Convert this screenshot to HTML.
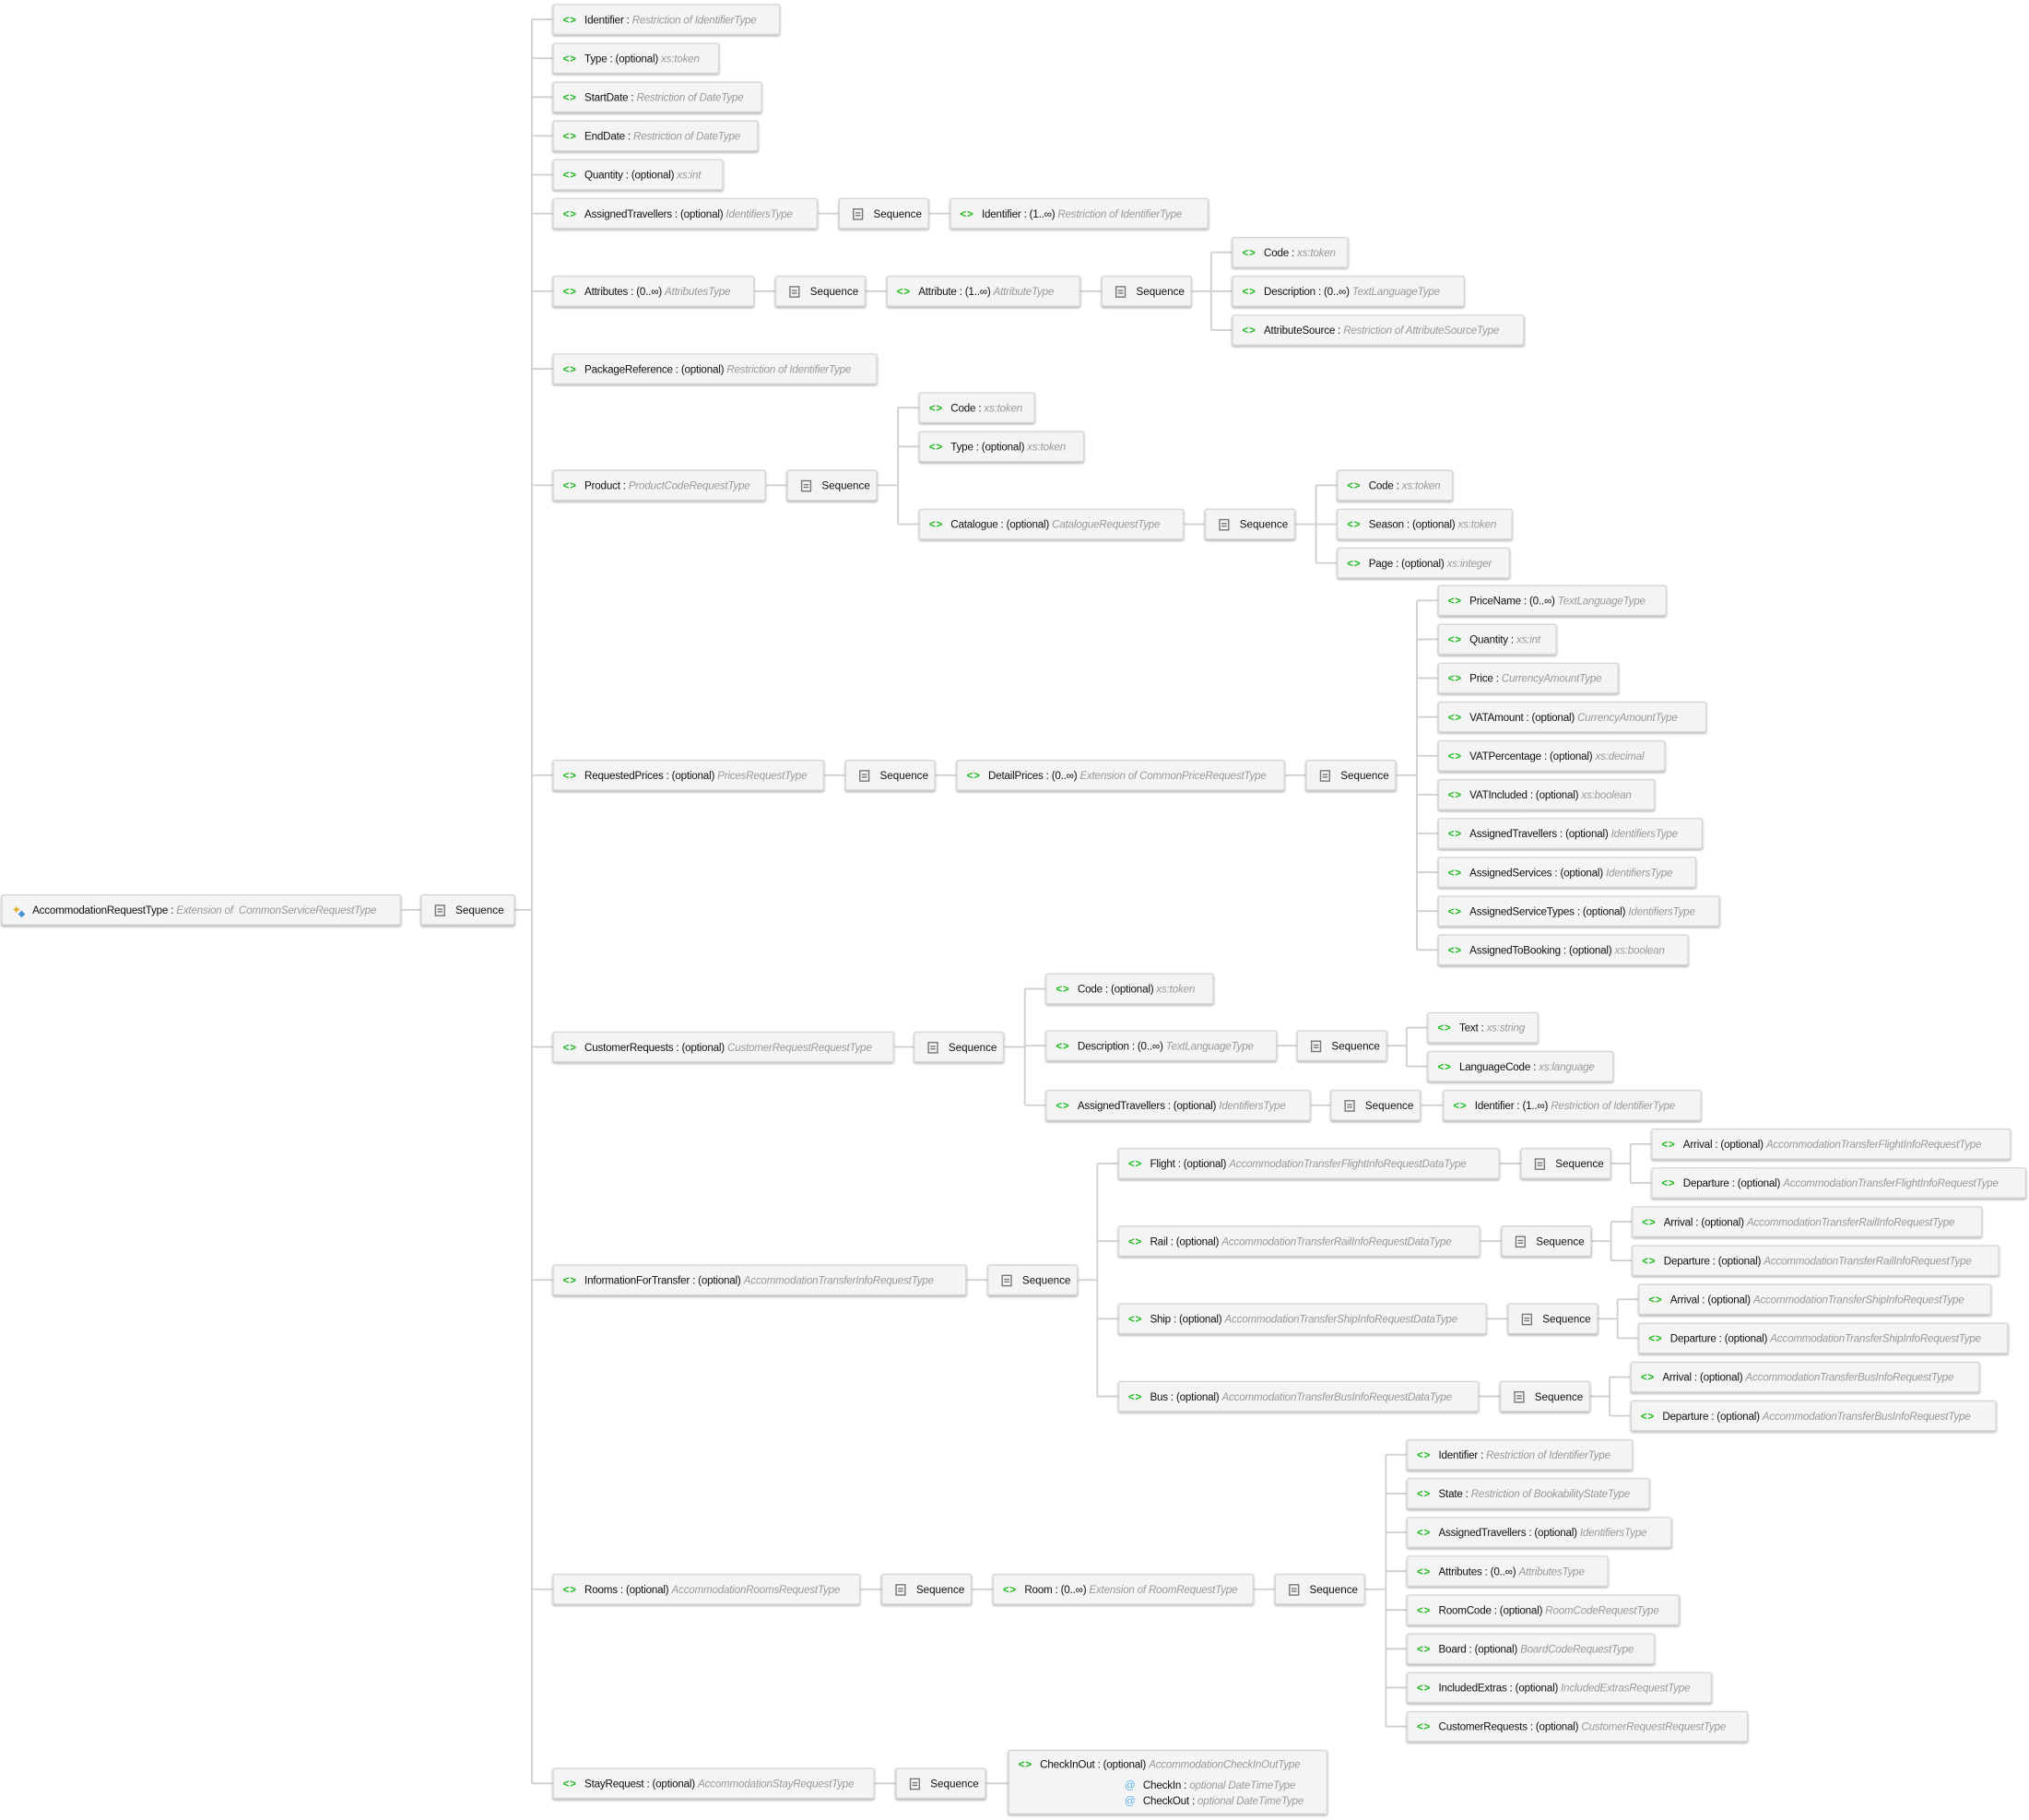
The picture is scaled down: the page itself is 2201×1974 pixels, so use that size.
<!DOCTYPE html>
<html><head><meta charset="utf-8"><style>
html,body{margin:0;padding:0;background:#fff;}
body{width:2201px;height:1973px;overflow:hidden;position:relative;}
#w{position:absolute;left:0;top:0;width:1568px;height:1406px;transform:scale(1.40370);transform-origin:0 0;font-family:"Liberation Sans",sans-serif;font-size:8.3px;color:#111;}
.b{position:absolute;height:24px;line-height:24px;background:#f4f4f4;border-radius:2px;box-shadow:inset 0 0 0 1px #d6d6d6,0 1px 1.5px rgba(0,0,0,.28);white-space:nowrap;overflow:hidden;padding-left:8px;box-sizing:content-box;letter-spacing:-0.15px;}
.b i{font-style:normal;color:#22bb22;font-weight:bold;margin-right:6px;letter-spacing:0.5px;}
.b em{color:#9a9a9a;}
.s{position:absolute;height:22px;line-height:22px;width:68px;background:#f4f4f4;border:1px solid #d6d6d6;border-radius:2px;box-shadow:0 1px 1.5px rgba(0,0,0,.28);white-space:nowrap;}
.s:before{content:"";position:absolute;left:10px;top:7px;width:6px;height:7px;border:1px solid #777;background:linear-gradient(#777,#777) 1px 2px/4px 1px no-repeat,linear-gradient(#777,#777) 1px 4px/4px 1px no-repeat;}
.s span{position:absolute;left:26px;}
svg{position:absolute;left:0;top:0;}
</style></head><body><div id="w">
<svg width="1568" height="1406" fill="none" stroke="#cfcfcf" stroke-width="1.3">
<path d="M310 703H325M397 703H411M411 15V1378"/>
<path d="M411 15H427M411 45H427M411 75H427M411 105H427M411 135H427M411 165H427M411 225H427M411 285H427M411 375H427M411 599H427M411 809H427M411 989H427M411 1228H427M411 1378H427"/>
<path d="M632 165H648M718 165H734"/>
<path d="M583 225H599M668 225H685M835 225H851M920 225H936M936 195V255M936 195H952M936 225H952M936 255H952"/>
<path d="M592 375H608M678 375H694M694 315V405M694 315H710M694 345H710M694 405H710M915 405H931M1001 405H1017M1017 375V435M1017 375H1033M1017 405H1033M1017 435H1033"/>
<path d="M637 599H653M723 599H739M993 599H1009M1079 599H1095M1095 464V734M1095 464H1111M1095 494H1111M1095 524H1111M1095 554H1111M1095 584H1111M1095 614H1111M1095 644H1111M1095 674H1111M1095 704H1111M1095 734H1111"/>
<path d="M691 809H706M776 809H792M792 764V854M792 764H808M792 808H808M792 854H808M987 808H1002M1072 808H1087M1087 794V824M1087 794H1103M1087 824H1103M1013 854H1028M1098 854H1115"/>
<path d="M747 989H763M833 989H848M848 899V1079M848 899H864M848 959H864M848 1019H864M848 1079H864"/>
<path d="M1159 899H1175M1245 899H1260M1260 884V914M1260 884H1276M1260 914H1276"/>
<path d="M1144 959H1160M1230 959H1245M1245 944V974M1245 944H1261M1245 974H1261"/>
<path d="M1149 1019H1165M1235 1019H1250M1250 1004V1034M1250 1004H1266M1250 1034H1266"/>
<path d="M1143 1079H1159M1229 1079H1244M1244 1064V1094M1244 1064H1260M1244 1094H1260"/>
<path d="M665 1228H681M751 1228H767M969 1228H985M1055 1228H1071M1071 1124V1334M1071 1124H1087M1071 1154H1087M1071 1184H1087M1071 1214H1087M1071 1244H1087M1071 1274H1087M1071 1304H1087M1071 1334H1087"/>
<path d="M676 1378H692M762 1378H779"/>
</svg>

<div class="b" style="left:1px;top:691px;padding-left:24px;width:285px"><span style="position:absolute;left:8px;top:0;color:#e0b020;font-size:9px">✦</span><span style="position:absolute;left:13px;top:4px;color:#4a90d9;font-size:7px">◆</span>AccommodationRequestType : <em>Extension of &nbsp;CommonServiceRequestType</em></div>
<div class="s" style="left:325px;top:691px;width:71px"><span>Sequence</span></div>

<div class="b" style="left:427px;top:3px;width:168px"><i>&lt;&gt;</i>Identifier : <em>Restriction of IdentifierType</em></div>
<div class="b" style="left:427px;top:33px;width:121px"><i>&lt;&gt;</i>Type : (optional) <em>xs:token</em></div>
<div class="b" style="left:427px;top:63px;width:154px"><i>&lt;&gt;</i>StartDate : <em>Restriction of DateType</em></div>
<div class="b" style="left:427px;top:93px;width:151px"><i>&lt;&gt;</i>EndDate : <em>Restriction of DateType</em></div>
<div class="b" style="left:427px;top:123px;width:124px"><i>&lt;&gt;</i>Quantity : (optional) <em>xs:int</em></div>
<div class="b" style="left:427px;top:153px;width:197px"><i>&lt;&gt;</i>AssignedTravellers : (optional) <em>IdentifiersType</em></div>
<div class="s" style="left:648px;top:153px"><span>Sequence</span></div>
<div class="b" style="left:734px;top:153px;width:192px"><i>&lt;&gt;</i>Identifier : (1..∞) <em>Restriction of IdentifierType</em></div>

<div class="b" style="left:427px;top:213px;width:148px"><i>&lt;&gt;</i>Attributes : (0..∞) <em>AttributesType</em></div>
<div class="s" style="left:599px;top:213px"><span>Sequence</span></div>
<div class="b" style="left:685px;top:213px;width:142px"><i>&lt;&gt;</i>Attribute : (1..∞) <em>AttributeType</em></div>
<div class="s" style="left:851px;top:213px"><span>Sequence</span></div>
<div class="b" style="left:952px;top:183px;width:82px"><i>&lt;&gt;</i>Code : <em>xs:token</em></div>
<div class="b" style="left:952px;top:213px;width:172px"><i>&lt;&gt;</i>Description : (0..∞) <em>TextLanguageType</em></div>
<div class="b" style="left:952px;top:243px;width:218px"><i>&lt;&gt;</i>AttributeSource : <em>Restriction of AttributeSourceType</em></div>

<div class="b" style="left:427px;top:273px;width:243px"><i>&lt;&gt;</i>PackageReference : (optional) <em>Restriction of IdentifierType</em></div>

<div class="b" style="left:427px;top:363px;width:157px"><i>&lt;&gt;</i>Product : <em>ProductCodeRequestType</em></div>
<div class="s" style="left:608px;top:363px"><span>Sequence</span></div>
<div class="b" style="left:710px;top:303px;width:82px"><i>&lt;&gt;</i>Code : <em>xs:token</em></div>
<div class="b" style="left:710px;top:333px;width:120px"><i>&lt;&gt;</i>Type : (optional) <em>xs:token</em></div>
<div class="b" style="left:710px;top:393px;width:197px"><i>&lt;&gt;</i>Catalogue : (optional) <em>CatalogueRequestType</em></div>
<div class="s" style="left:931px;top:393px"><span>Sequence</span></div>
<div class="b" style="left:1033px;top:363px;width:82px"><i>&lt;&gt;</i>Code : <em>xs:token</em></div>
<div class="b" style="left:1033px;top:393px;width:128px"><i>&lt;&gt;</i>Season : (optional) <em>xs:token</em></div>
<div class="b" style="left:1033px;top:423px;width:126px"><i>&lt;&gt;</i>Page : (optional) <em>xs:integer</em></div>

<div class="b" style="left:427px;top:587px;width:202px"><i>&lt;&gt;</i>RequestedPrices : (optional) <em>PricesRequestType</em></div>
<div class="s" style="left:653px;top:587px"><span>Sequence</span></div>
<div class="b" style="left:739px;top:587px;width:246px"><i>&lt;&gt;</i>DetailPrices : (0..∞) <em>Extension of CommonPriceRequestType</em></div>
<div class="s" style="left:1009px;top:587px"><span>Sequence</span></div>
<div class="b" style="left:1111px;top:452px;width:169px"><i>&lt;&gt;</i>PriceName : (0..∞) <em>TextLanguageType</em></div>
<div class="b" style="left:1111px;top:482px;width:84px"><i>&lt;&gt;</i>Quantity : <em>xs:int</em></div>
<div class="b" style="left:1111px;top:512px;width:132px"><i>&lt;&gt;</i>Price : <em>CurrencyAmountType</em></div>
<div class="b" style="left:1111px;top:542px;width:200px"><i>&lt;&gt;</i>VATAmount : (optional) <em>CurrencyAmountType</em></div>
<div class="b" style="left:1111px;top:572px;width:168px"><i>&lt;&gt;</i>VATPercentage : (optional) <em>xs:decimal</em></div>
<div class="b" style="left:1111px;top:602px;width:160px"><i>&lt;&gt;</i>VATIncluded : (optional) <em>xs:boolean</em></div>
<div class="b" style="left:1111px;top:632px;width:197px"><i>&lt;&gt;</i>AssignedTravellers : (optional) <em>IdentifiersType</em></div>
<div class="b" style="left:1111px;top:662px;width:192px"><i>&lt;&gt;</i>AssignedServices : (optional) <em>IdentifiersType</em></div>
<div class="b" style="left:1111px;top:692px;width:210px"><i>&lt;&gt;</i>AssignedServiceTypes : (optional) <em>IdentifiersType</em></div>
<div class="b" style="left:1111px;top:722px;width:186px"><i>&lt;&gt;</i>AssignedToBooking : (optional) <em>xs:boolean</em></div>

<div class="b" style="left:427px;top:797px;width:256px"><i>&lt;&gt;</i>CustomerRequests : (optional) <em>CustomerRequestRequestType</em></div>
<div class="s" style="left:706px;top:797px"><span>Sequence</span></div>
<div class="b" style="left:808px;top:752px;width:122px"><i>&lt;&gt;</i>Code : (optional) <em>xs:token</em></div>
<div class="b" style="left:808px;top:796px;width:171px"><i>&lt;&gt;</i>Description : (0..∞) <em>TextLanguageType</em></div>
<div class="s" style="left:1002px;top:796px"><span>Sequence</span></div>
<div class="b" style="left:1103px;top:782px;width:78px"><i>&lt;&gt;</i>Text : <em>xs:string</em></div>
<div class="b" style="left:1103px;top:812px;width:136px"><i>&lt;&gt;</i>LanguageCode : <em>xs:language</em></div>
<div class="b" style="left:808px;top:842px;width:197px"><i>&lt;&gt;</i>AssignedTravellers : (optional) <em>IdentifiersType</em></div>
<div class="s" style="left:1028px;top:842px"><span>Sequence</span></div>
<div class="b" style="left:1115px;top:842px;width:192px"><i>&lt;&gt;</i>Identifier : (1..∞) <em>Restriction of IdentifierType</em></div>

<div class="b" style="left:427px;top:977px;width:312px"><i>&lt;&gt;</i>InformationForTransfer : (optional) <em>AccommodationTransferInfoRequestType</em></div>
<div class="s" style="left:763px;top:977px"><span>Sequence</span></div>
<div class="b" style="left:864px;top:887px;width:287px"><i>&lt;&gt;</i>Flight : (optional) <em>AccommodationTransferFlightInfoRequestDataType</em></div>
<div class="s" style="left:1175px;top:887px"><span>Sequence</span></div>
<div class="b" style="left:1276px;top:872px;width:270px"><i>&lt;&gt;</i>Arrival : (optional) <em>AccommodationTransferFlightInfoRequestType</em></div>
<div class="b" style="left:1276px;top:902px;width:282px"><i>&lt;&gt;</i>Departure : (optional) <em>AccommodationTransferFlightInfoRequestType</em></div>
<div class="b" style="left:864px;top:947px;width:272px"><i>&lt;&gt;</i>Rail : (optional) <em>AccommodationTransferRailInfoRequestDataType</em></div>
<div class="s" style="left:1160px;top:947px"><span>Sequence</span></div>
<div class="b" style="left:1261px;top:932px;width:263px"><i>&lt;&gt;</i>Arrival : (optional) <em>AccommodationTransferRailInfoRequestType</em></div>
<div class="b" style="left:1261px;top:962px;width:276px"><i>&lt;&gt;</i>Departure : (optional) <em>AccommodationTransferRailInfoRequestType</em></div>
<div class="b" style="left:864px;top:1007px;width:277px"><i>&lt;&gt;</i>Ship : (optional) <em>AccommodationTransferShipInfoRequestDataType</em></div>
<div class="s" style="left:1165px;top:1007px"><span>Sequence</span></div>
<div class="b" style="left:1266px;top:992px;width:265px"><i>&lt;&gt;</i>Arrival : (optional) <em>AccommodationTransferShipInfoRequestType</em></div>
<div class="b" style="left:1266px;top:1022px;width:278px"><i>&lt;&gt;</i>Departure : (optional) <em>AccommodationTransferShipInfoRequestType</em></div>
<div class="b" style="left:864px;top:1067px;width:271px"><i>&lt;&gt;</i>Bus : (optional) <em>AccommodationTransferBusInfoRequestDataType</em></div>
<div class="s" style="left:1159px;top:1067px"><span>Sequence</span></div>
<div class="b" style="left:1260px;top:1052px;width:262px"><i>&lt;&gt;</i>Arrival : (optional) <em>AccommodationTransferBusInfoRequestType</em></div>
<div class="b" style="left:1260px;top:1082px;width:275px"><i>&lt;&gt;</i>Departure : (optional) <em>AccommodationTransferBusInfoRequestType</em></div>

<div class="b" style="left:427px;top:1216px;width:230px"><i>&lt;&gt;</i>Rooms : (optional) <em>AccommodationRoomsRequestType</em></div>
<div class="s" style="left:681px;top:1216px"><span>Sequence</span></div>
<div class="b" style="left:767px;top:1216px;width:194px"><i>&lt;&gt;</i>Room : (0..∞) <em>Extension of RoomRequestType</em></div>
<div class="s" style="left:985px;top:1216px"><span>Sequence</span></div>
<div class="b" style="left:1087px;top:1112px;width:167px"><i>&lt;&gt;</i>Identifier : <em>Restriction of IdentifierType</em></div>
<div class="b" style="left:1087px;top:1142px;width:180px"><i>&lt;&gt;</i>State : <em>Restriction of BookabilityStateType</em></div>
<div class="b" style="left:1087px;top:1172px;width:197px"><i>&lt;&gt;</i>AssignedTravellers : (optional) <em>IdentifiersType</em></div>
<div class="b" style="left:1087px;top:1202px;width:148px"><i>&lt;&gt;</i>Attributes : (0..∞) <em>AttributesType</em></div>
<div class="b" style="left:1087px;top:1232px;width:203px"><i>&lt;&gt;</i>RoomCode : (optional) <em>RoomCodeRequestType</em></div>
<div class="b" style="left:1087px;top:1262px;width:184px"><i>&lt;&gt;</i>Board : (optional) <em>BoardCodeRequestType</em></div>
<div class="b" style="left:1087px;top:1292px;width:228px"><i>&lt;&gt;</i>IncludedExtras : (optional) <em>IncludedExtrasRequestType</em></div>
<div class="b" style="left:1087px;top:1322px;width:256px"><i>&lt;&gt;</i>CustomerRequests : (optional) <em>CustomerRequestRequestType</em></div>

<div class="b" style="left:427px;top:1366px;width:241px"><i>&lt;&gt;</i>StayRequest : (optional) <em>AccommodationStayRequestType</em></div>
<div class="s" style="left:692px;top:1366px"><span>Sequence</span></div>
<div class="b" style="left:779px;top:1352px;width:239px;height:50px;line-height:normal;padding-top:0">
<div style="position:absolute;left:8px;top:6px"><i>&lt;&gt;</i>CheckInOut : (optional) <em>AccommodationCheckInOutType</em></div>
<div style="position:absolute;left:90px;top:22px"><span style="color:#5ab4f0;margin-right:6px">@</span>CheckIn : <em>optional DateTimeType</em></div>
<div style="position:absolute;left:90px;top:34px"><span style="color:#5ab4f0;margin-right:6px">@</span>CheckOut : <em>optional DateTimeType</em></div>
</div>
</div></body></html>
